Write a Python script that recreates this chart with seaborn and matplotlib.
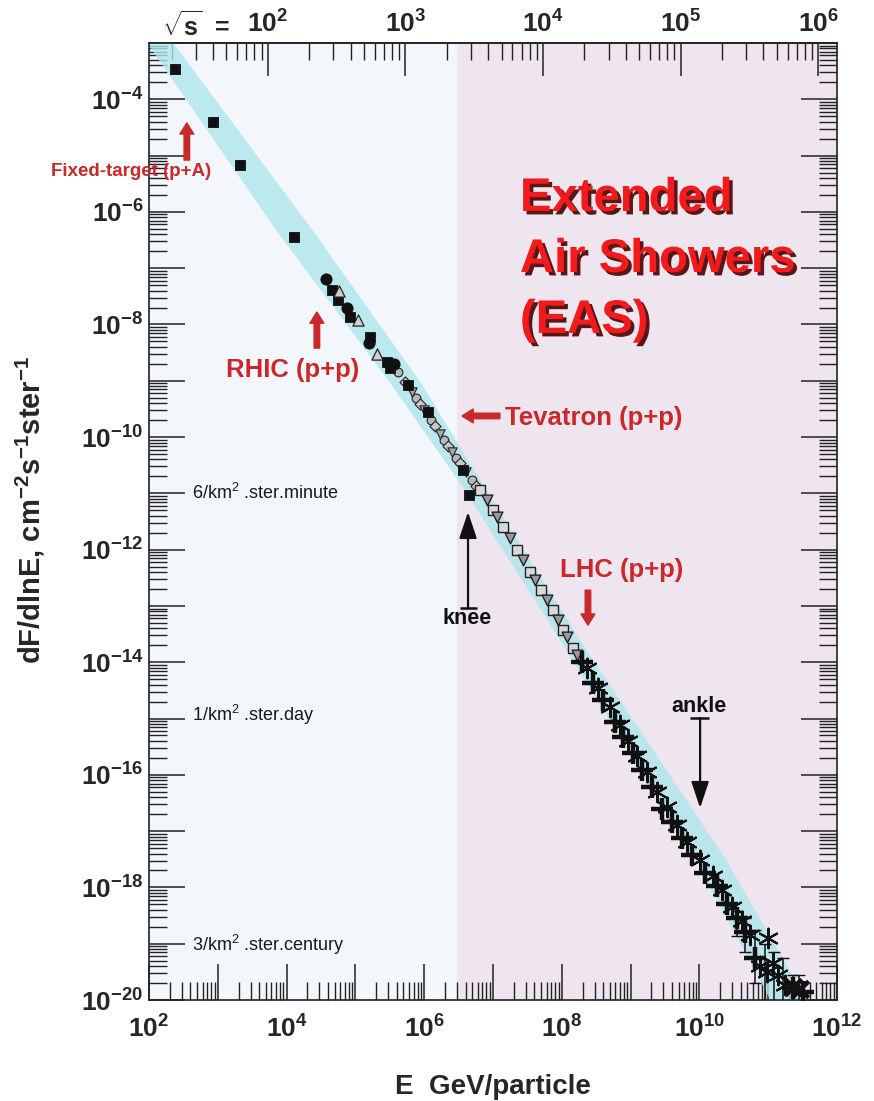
import numpy as np
import matplotlib
matplotlib.use("Agg")
import matplotlib.pyplot as plt
import matplotlib.ticker as mticker
import matplotlib.patheffects as pe
import seaborn as sns

sns.set_style("ticks")
plt.rcParams["font.family"] = ["Liberation Sans", "DejaVu Sans"]
plt.rcParams["mathtext.fontset"] = "custom"
plt.rcParams["mathtext.rm"] = "Liberation Sans"
plt.rcParams["mathtext.bf"] = "Liberation Sans:bold"
plt.rcParams["mathtext.it"] = "Liberation Sans:italic"
plt.rcParams["mathtext.sf"] = "Liberation Sans"

# ---- data: log10(E / GeV) and log10(dF/dlnE) ----
fixed_target_logE = [2.38, 2.93, 3.32, 4.11]
fixed_target_logF = [-3.46, -4.40, -5.17, -6.45]

direct_sq_logE = [4.66, 4.75, 4.92, 5.21, 5.46, 5.50, 5.77, 6.06, 6.56, 6.65]
direct_sq_logF = [-7.39, -7.57, -7.87, -8.22, -8.67, -8.77, -9.08, -9.55, -10.58, -11.03]

circle_logE = [4.57, 4.88, 5.20, 5.56]
circle_logF = [-7.19, -7.71, -8.33, -8.70]

triangle_logE = [4.76, 5.04, 5.31]
triangle_logF = [-7.41, -7.92, -8.52]

gray_circ_logE = [5.62, 5.88, 6.10, 6.29, 6.46, 6.70]
gray_circ_logF = [-8.84, -9.31, -9.70, -10.05, -10.37, -10.76]
gray_diam_logE = [5.72, 5.94, 6.16, 6.35, 6.52, 6.75]
gray_diam_logF = [-9.02, -9.41, -9.80, -10.16, -10.46, -10.87]
gray_tri_logE = [5.82, 6.00, 6.23, 6.40, 6.61]
gray_tri_logF = [-9.20, -9.52, -9.94, -10.26, -10.62]

open_sq_logE = [6.81, 7.00, 7.15, 7.35, 7.54, 7.70, 7.87, 8.02, 8.16]
open_sq_logF = [-10.94, -11.29, -11.60, -12.01, -12.40, -12.72, -13.07, -13.43, -13.75]
open_tri_logE = [6.91, 7.06, 7.25, 7.44, 7.61, 7.78, 7.94, 8.08, 8.22]
open_tri_logF = [-11.12, -11.42, -11.79, -12.18, -12.54, -12.89, -13.25, -13.55, -13.87]

plus_logE = [8.29, 8.45, 8.60, 8.77, 8.89, 9.03, 9.17, 9.31, 9.46, 9.60,
             9.75, 9.89, 10.08, 10.26, 10.40, 10.55, 10.66, 10.81, 11.36, 11.50]
plus_logF = [-14.00, -14.37, -14.67, -15.06, -15.33, -15.62, -15.91, -16.22, -16.60, -16.84,
             -17.12, -17.42, -17.75, -17.98, -18.30, -18.55, -18.80, -19.25, -19.78, -19.85]

star_logE = [8.37, 8.53, 8.70, 8.85, 8.96, 9.09, 9.24, 9.38, 9.53, 9.67, 9.82,
             10.01, 10.20, 10.33, 10.47, 10.62, 10.74, 10.88, 10.98, 11.00, 11.07, 11.14, 11.24]
star_logF = [-14.10, -14.45, -14.80, -15.12, -15.40, -15.66, -15.95, -16.30, -16.58, -16.90, -17.20,
             -17.52, -17.80, -18.05, -18.35, -18.60, -18.85, -19.40, -19.50, -18.90, -19.34, -19.55, -19.73]

cross_logE = [11.36, 11.46]
cross_logF = [-19.77, -19.80]

err_logE = [10.55, 10.67, 10.81, 10.95, 11.08, 11.22, 11.36, 11.45]
err_logF = [-18.62, -18.80, -19.10, -19.35, -19.45, -19.55, -19.80, -19.80]
err_lo = [0.25, 0.35, 0.60, 0.70, 0.60, 0.50, 0.30, 0.30]
err_hi = [0.20, 0.25, 0.35, 0.35, 0.30, 0.30, 0.25, 0.25]

# band around the measured spectrum (log10 flux levels, left / right log10 E)
band_logF = [-2.5, -3.0, -6.3, -9.0, -10.8, -13.6, -17.5, -20.0, -20.5]
band_left_logE = [1.70, 1.97, 3.83, 5.48, 6.51, 7.97, 9.93, 11.03, 11.25]
band_right_logE = [2.05, 2.35, 4.36, 5.93, 6.83, 8.26, 10.38, 11.56, 11.80]

knee_split_logE = 6.48

# reference rates drawn as horizontal captions
rate_labels = ["6/km$^2$ .ster.minute", "1/km$^2$ .ster.day", "3/km$^2$ .ster.century"]
rate_values = [6 / 1e10 / 60, 1 / 1e10 / 86400, 3 / 1e10 / (100 * 365.25 * 86400)]

xtick_exps = [2, 4, 6, 8, 10, 12]
ytick_exps = [-4, -6, -8, -10, -12, -14, -16, -18, -20]
sqrts_exps = [2, 3, 4, 5, 6]

RED = "#c9292b"
EAS_RED = "#f21a1a"


def P(le, lf):
    return (10 ** le, 10 ** lf)


fig = plt.figure(figsize=(8.74, 11.01), dpi=100)
ax = fig.add_axes([149 / 874, 1 - 1000 / 1101, 688 / 874, 957 / 1101])
ax.set_xscale("log")
ax.set_yscale("log")
ax.set_xlim(1e2, 1e12)
ax.set_ylim(1e-20, 1e-3)

# backgrounds: direct measurements / air showers
ax.axvspan(1e2, 10 ** knee_split_logE, color="#f3f7fc", lw=0, zorder=0)
ax.axvspan(10 ** knee_split_logE, 1e12, color="#efe5ef", lw=0, zorder=0)

ax.fill_betweenx(10 ** np.array(band_logF), 10 ** np.array(band_left_logE),
                 10 ** np.array(band_right_logE), color="#aee6ec", alpha=0.8, lw=0, zorder=1)


def pts(le, lf):
    return 10 ** np.array(le), 10 ** np.array(lf)


x, y = pts(fixed_target_logE, fixed_target_logF)
sns.scatterplot(x=x, y=y, ax=ax, marker="s", s=60, color="#111111", edgecolor="#111111", zorder=5)
x, y = pts(direct_sq_logE, direct_sq_logF)
sns.scatterplot(x=x, y=y, ax=ax, marker="s", s=55, color="#111111", edgecolor="#111111", zorder=5)
x, y = pts(circle_logE, circle_logF)
sns.scatterplot(x=x, y=y, ax=ax, marker="o", s=65, color="#111111", edgecolor="#111111", zorder=5)
x, y = pts(triangle_logE, triangle_logF)
sns.scatterplot(x=x, y=y, ax=ax, marker="^", s=65, color="#d0d0d0", edgecolor="#222222", linewidth=0.9, zorder=5)
x, y = pts(gray_circ_logE, gray_circ_logF)
sns.scatterplot(x=x, y=y, ax=ax, marker="o", s=40, color="#b8b8b8", edgecolor="#222222", linewidth=0.8, zorder=4)
x, y = pts(gray_diam_logE, gray_diam_logF)
sns.scatterplot(x=x, y=y, ax=ax, marker="D", s=32, color="#c8c8c8", edgecolor="#222222", linewidth=0.8, zorder=4)
x, y = pts(gray_tri_logE, gray_tri_logF)
sns.scatterplot(x=x, y=y, ax=ax, marker="v", s=45, color="#a8a8a8", edgecolor="#222222", linewidth=0.8, zorder=4)
x, y = pts(open_sq_logE, open_sq_logF)
sns.scatterplot(x=x, y=y, ax=ax, marker="s", s=60, color="#d8d8d8", edgecolor="#222222", linewidth=1.0, zorder=4)
x, y = pts(open_tri_logE, open_tri_logF)
sns.scatterplot(x=x, y=y, ax=ax, marker="v", s=60, color="#9a9a9a", edgecolor="#222222", linewidth=1.0, zorder=4)

ax.errorbar(10 ** np.array(err_logE), 10 ** np.array(err_logF),
            yerr=[10 ** np.array(err_logF) * (1 - 10 ** -np.array(err_lo)),
                  10 ** np.array(err_logF) * (10 ** np.array(err_hi) - 1)],
            fmt="none", ecolor="#111111", elinewidth=1.1, capsize=4, zorder=4)

x, y = pts(plus_logE, plus_logF)
sns.scatterplot(x=x, y=y, ax=ax, marker="+", s=230, color="#111111", linewidth=3.2, zorder=6)
x, y = pts(star_logE, star_logF)
sns.scatterplot(x=x, y=y, ax=ax, marker=(6, 2, 0), s=200, color="#111111", linewidth=1.5, zorder=6)
x, y = pts(cross_logE, cross_logF)
sns.scatterplot(x=x, y=y, ax=ax, marker="x", s=140, color="#111111", linewidth=3.2, zorder=6)

# ---- axes, ticks ----
ax.xaxis.set_major_locator(mticker.LogLocator(base=10, numticks=30))
ax.xaxis.set_minor_locator(mticker.LogLocator(base=10, subs=np.arange(2, 10), numticks=300))
ax.yaxis.set_major_locator(mticker.LogLocator(base=10, numticks=30))
ax.yaxis.set_minor_locator(mticker.LogLocator(base=10, subs=np.arange(2, 10), numticks=300))


def xfmt(v, pos):
    e = int(round(np.log10(v)))
    return r"$\mathbf{10^{%d}}$" % e if e in xtick_exps else ""


def yfmt(v, pos):
    e = int(round(np.log10(v)))
    return r"$\mathbf{10^{%d}}$" % e if e in ytick_exps else ""


ax.xaxis.set_major_formatter(mticker.FuncFormatter(xfmt))
ax.yaxis.set_major_formatter(mticker.FuncFormatter(yfmt))
ax.xaxis.set_minor_formatter(mticker.NullFormatter())
ax.yaxis.set_minor_formatter(mticker.NullFormatter())

ax.tick_params(which="major", direction="in", length=26, width=1.1, color="#222222",
               top=False, right=True, labelsize=19)
ax.tick_params(which="minor", direction="in", length=13, width=1.0, color="#222222",
               top=False, right=True)
ax.tick_params(axis="x", which="major", pad=11)
ax.tick_params(axis="y", which="major", pad=4)
for s in ax.spines.values():
    s.set_color("#222222")
    s.set_linewidth(1.2)

sec = ax.secondary_xaxis("top", functions=(lambda e: np.sqrt(1.876 * np.abs(e)),
                                           lambda r: np.asarray(r) ** 2 / 1.876))
sec.set_xticks([10.0 ** k for k in sqrts_exps])
sec.xaxis.set_major_formatter(mticker.FixedFormatter([r"$\mathbf{10^{%d}}$" % k for k in sqrts_exps]))
sec.xaxis.set_minor_locator(mticker.LogLocator(base=10, subs=np.arange(2, 10), numticks=300))
sec.xaxis.set_minor_formatter(mticker.NullFormatter())
sec.tick_params(which="major", direction="in", length=24, width=1.1, color="#222222", labelsize=19, pad=4)
sec.tick_params(which="minor", direction="in", length=12, width=1.0, color="#222222")
sec.spines["top"].set_linewidth(1.2)
fig.text(196 / 874, 1 - 26 / 1101, r"$\mathbf{\sqrt{s}}$  =", fontsize=18, fontweight="bold",
         ha="center", va="center")

ax.set_xlabel("E  GeV/particle", fontsize=20, fontweight="bold")
ax.xaxis.set_label_coords(0.5, -0.077)
ax.set_ylabel(r"dF/dlnE, cm$^{\mathbf{-2}}$s$^{\mathbf{-1}}$ster$^{\mathbf{-1}}$",
              fontsize=21, fontweight="bold")
ax.yaxis.set_label_coords(-0.148, 0.512)

# ---- rate captions ----
for lab, val in zip(rate_labels, rate_values):
    ax.text(10 ** 2.625, val, lab, fontsize=13, color="#1a1a1a", ha="left", va="center", zorder=7)

# ---- accelerator annotations ----
red_arrow = dict(arrowstyle="simple,head_length=0.8,head_width=1.0,tail_width=0.4",
                 fc=RED, ec=RED, shrinkA=0, shrinkB=0)
ax.annotate("", xy=P(2.55, -4.42), xytext=P(2.55, -5.08), arrowprops=red_arrow,
            annotation_clip=False, zorder=8)
ax.text(10 ** 1.738, 10 ** -5.29, "Fixed-target (p+A)", fontsize=13.5, fontweight="bold",
        color=RED, ha="center", va="center", clip_on=False, zorder=8)

ax.annotate("", xy=P(4.44, -7.78), xytext=P(4.44, -8.42), arrowprops=red_arrow, zorder=8)
ax.text(10 ** 4.093, 10 ** -8.81, "RHIC (p+p)", fontsize=18.5, fontweight="bold",
        color=RED, ha="center", va="center", zorder=8)

ax.annotate("", xy=P(6.55, -9.625), xytext=P(7.10, -9.625), arrowprops=red_arrow, zorder=8)
ax.text(10 ** 7.174, 10 ** -9.66, "Tevatron (p+p)", fontsize=18.5, fontweight="bold",
        color=RED, ha="left", va="center", zorder=8)

ax.annotate("", xy=P(8.38, -13.34), xytext=P(8.38, -12.72), arrowprops=red_arrow, zorder=8)
ax.text(10 ** 7.974, 10 ** -12.36, "LHC (p+p)", fontsize=18.5, fontweight="bold",
        color=RED, ha="left", va="center", zorder=8)

# ---- knee / ankle markers ----
blk_arrow = dict(arrowstyle="-|>,head_length=0.9,head_width=0.3", fc="#111111", ec="#111111",
                 lw=1.6, shrinkA=0, shrinkB=0, mutation_scale=18)
ax.annotate("", xy=P(6.637, -11.33), xytext=P(6.637, -13.04), arrowprops=blk_arrow, zorder=8)
ax.hlines(10 ** -13.04, 10 ** 6.52, 10 ** 6.77, color="#111111", lw=1.8, zorder=8)
ax.text(10 ** 6.622, 10 ** -13.23, "knee", fontsize=15.5, fontweight="bold",
        color="#111111", ha="center", va="center", zorder=8)

ax.annotate("", xy=P(10.01, -16.59), xytext=P(10.01, -14.99), arrowprops=blk_arrow, zorder=8)
ax.hlines(10 ** -14.99, 10 ** 9.86, 10 ** 10.14, color="#111111", lw=1.8, zorder=8)
ax.text(10 ** 9.994, 10 ** -14.78, "ankle", fontsize=15.5, fontweight="bold",
        color="#111111", ha="center", va="center", zorder=8)

ax.text(10 ** 7.392, 10 ** -6.854, "Extended\nAir Showers\n(EAS)", fontsize=34, fontweight="bold",
        color=EAS_RED, ha="left", va="center", linespacing=1.5, zorder=8,
        path_effects=[pe.SimplePatchShadow(offset=(2.5, -2.5), shadow_rgbFace="#4a0000", alpha=0.9),
                      pe.Normal()])

fig.savefig("out.png", dpi=100, facecolor="white")
